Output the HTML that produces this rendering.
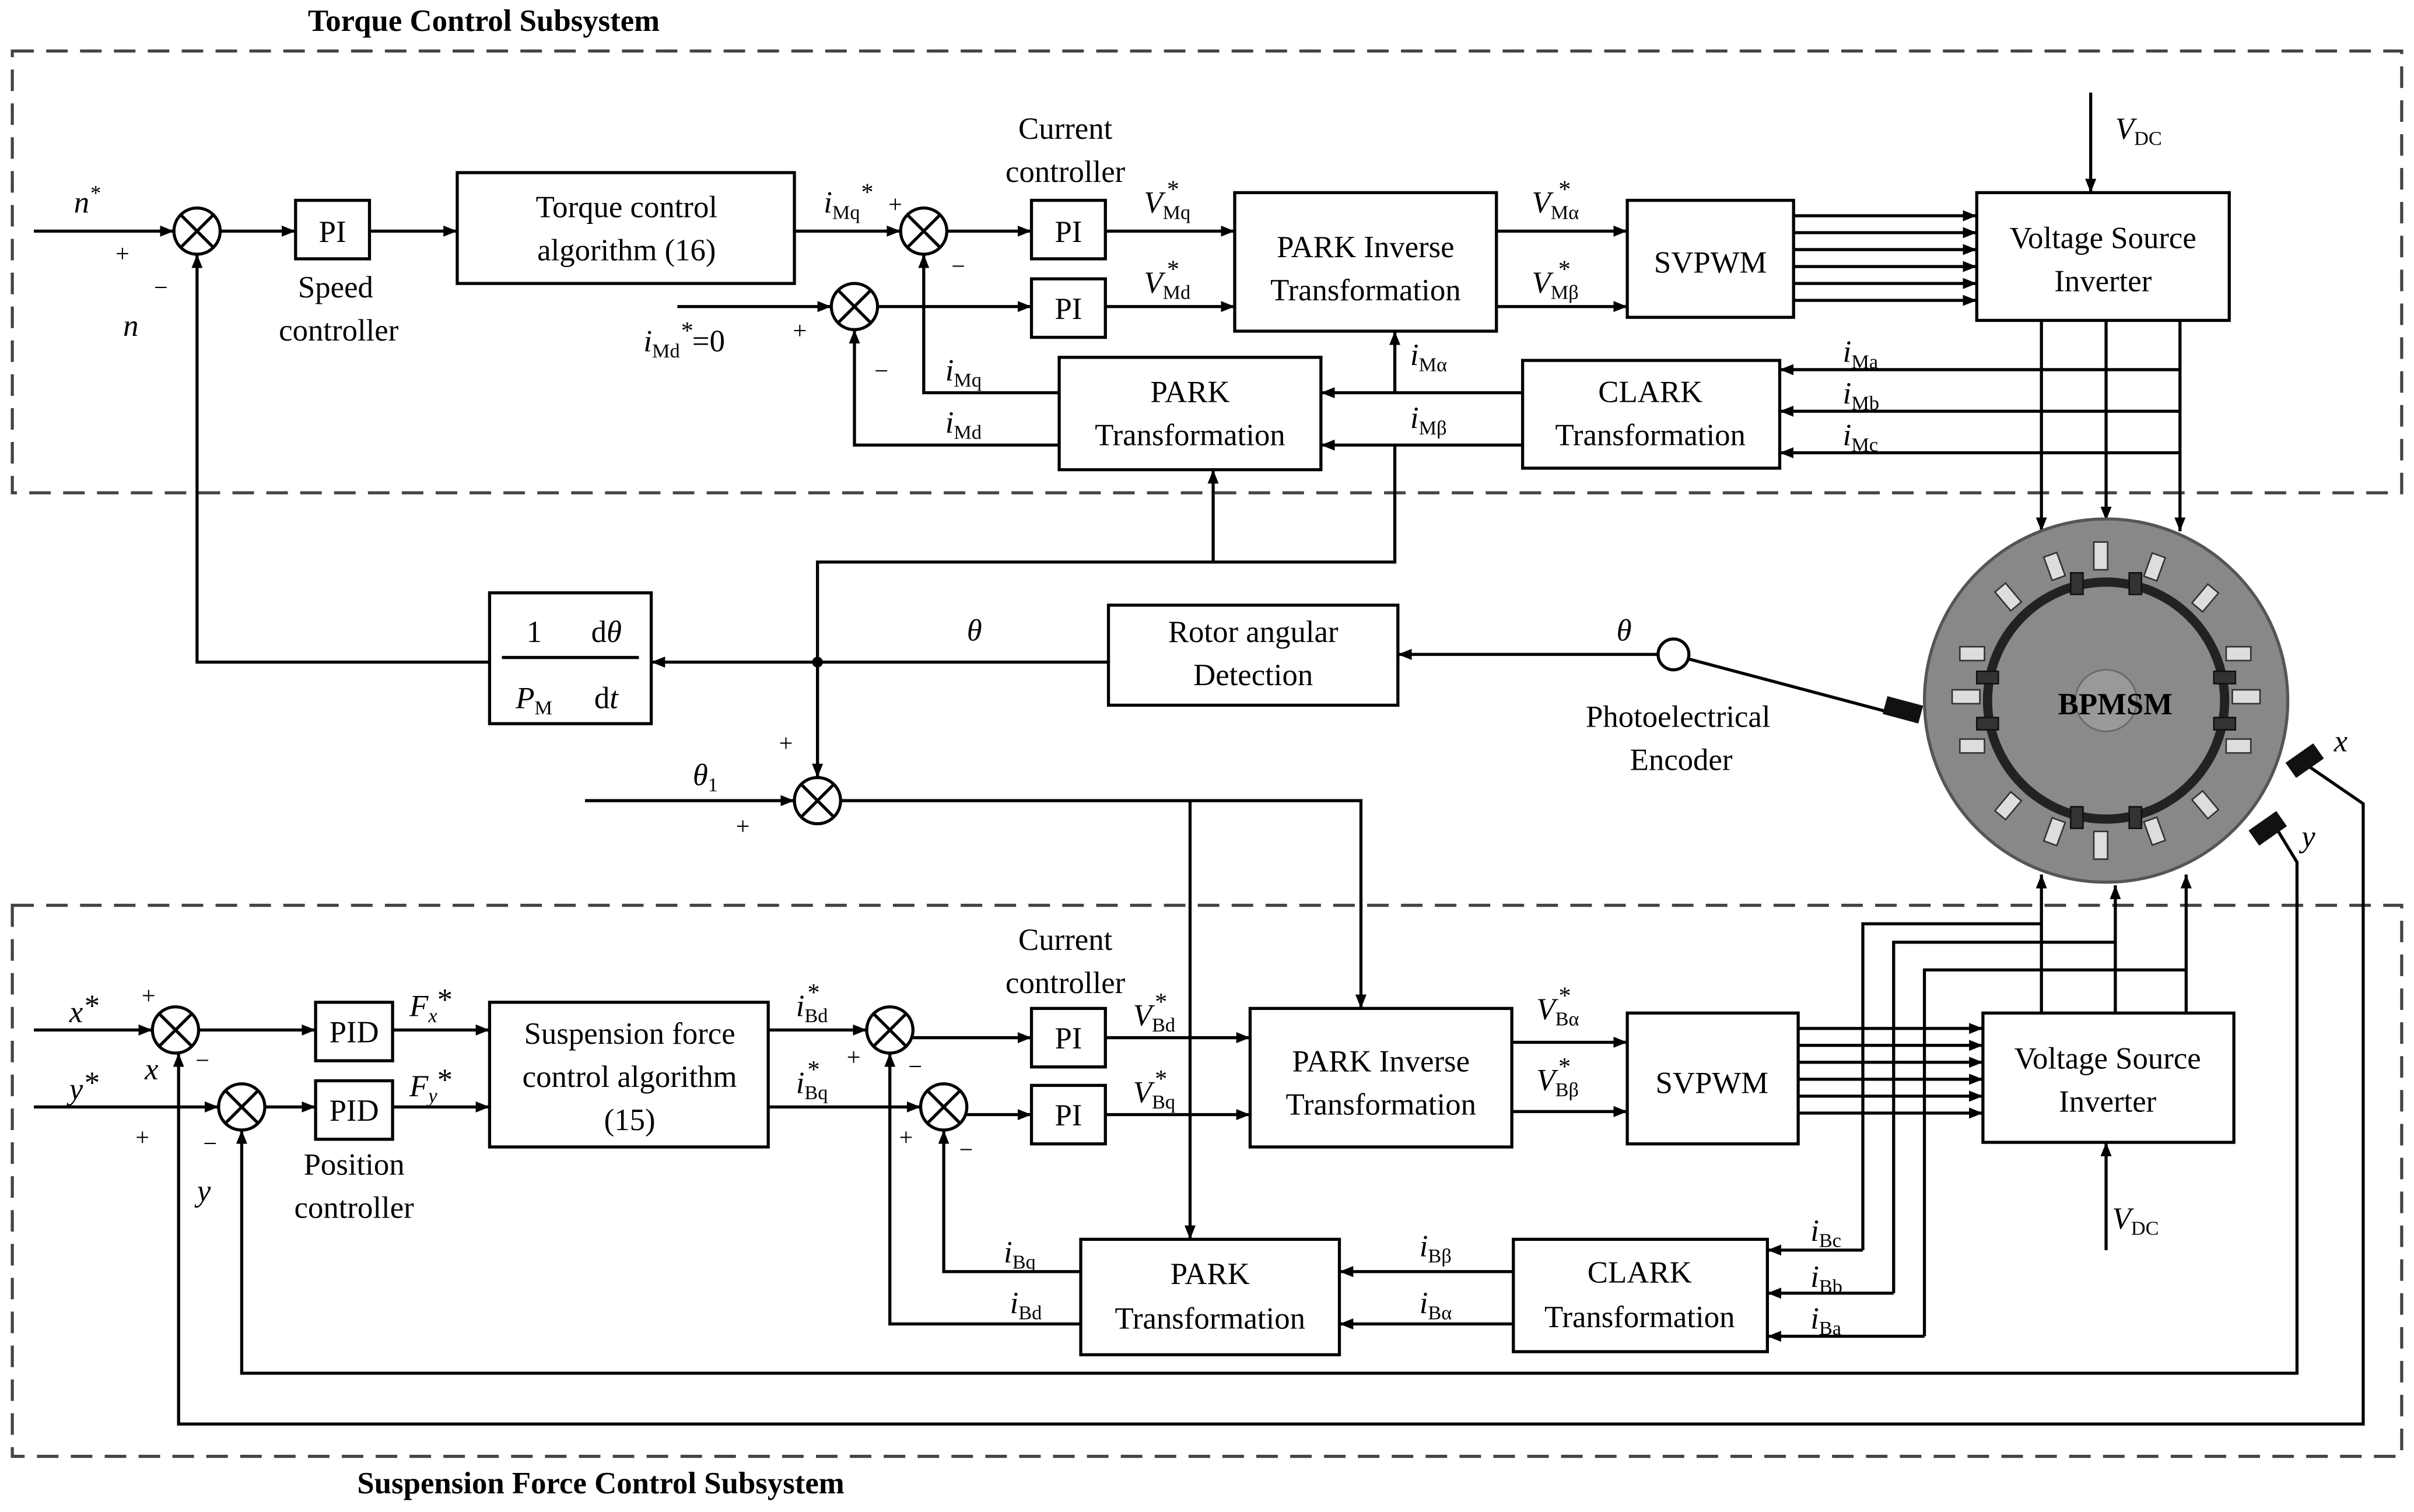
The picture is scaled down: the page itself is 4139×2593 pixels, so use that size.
<!DOCTYPE html>
<html><head><meta charset="utf-8"><style>
html,body{margin:0;padding:0;background:#fff}
svg{display:block}
text{font-family:"Liberation Serif",serif;fill:#000}
</style></head><body>
<svg width="4139" height="2593" viewBox="0 0 1568 982" xmlns="http://www.w3.org/2000/svg">
<defs>
<marker id="a" viewBox="0 0 10 10" refX="10" refY="5" markerWidth="9" markerHeight="9" markerUnits="userSpaceOnUse" orient="auto"><path d="M0,1 L10,5 L0,9z" fill="#000"/></marker>
</defs>
<g fill="none" stroke="#000" stroke-width="2">
<rect x="8" y="33" width="1552" height="287" stroke="#444" stroke-dasharray="14,8"/>
<rect x="8" y="588" width="1552" height="358" stroke="#444" stroke-dasharray="14,8"/>
<rect x="192" y="130" width="48" height="38"/>
<rect x="297" y="112" width="219" height="72"/>
<rect x="670" y="130" width="48" height="38"/>
<rect x="670" y="181" width="48" height="38"/>
<rect x="802" y="125" width="170" height="90"/>
<rect x="1057" y="130" width="108" height="76"/>
<rect x="1284" y="125" width="164" height="83"/>
<rect x="989" y="234" width="167" height="70"/>
<rect x="688" y="232" width="170" height="73"/>
<rect x="720" y="393" width="188" height="65"/>
<rect x="318" y="385" width="105" height="85"/>
<line x1="326" y1="427" x2="415" y2="427"/>
<circle cx="128" cy="150" r="15"/><path d="M117,139 L139,161 M139,139 L117,161"/>
<circle cx="600" cy="150" r="15"/><path d="M589,139 L611,161 M611,139 L589,161"/>
<circle cx="555" cy="199" r="15"/><path d="M544,188 L566,210 M566,188 L544,210"/>
<circle cx="531" cy="520" r="15"/><path d="M520,509 L542,531 M542,509 L520,531"/>
<line x1="22" y1="150" x2="113" y2="150" marker-end="url(#a)"/>
<line x1="143" y1="150" x2="192" y2="150" marker-end="url(#a)"/>
<line x1="240" y1="150" x2="297" y2="150" marker-end="url(#a)"/>
<line x1="516" y1="150" x2="585" y2="150" marker-end="url(#a)"/>
<line x1="615" y1="150" x2="670" y2="150" marker-end="url(#a)"/>
<line x1="440" y1="199" x2="540" y2="199" marker-end="url(#a)"/>
<line x1="570" y1="199" x2="670" y2="199" marker-end="url(#a)"/>
<line x1="718" y1="150" x2="802" y2="150" marker-end="url(#a)"/>
<line x1="718" y1="199" x2="802" y2="199" marker-end="url(#a)"/>
<line x1="972" y1="150" x2="1057" y2="150" marker-end="url(#a)"/>
<line x1="972" y1="199" x2="1057" y2="199" marker-end="url(#a)"/>
<line x1="1165" y1="140" x2="1284" y2="140" marker-end="url(#a)"/>
<line x1="1165" y1="151" x2="1284" y2="151" marker-end="url(#a)"/>
<line x1="1165" y1="162" x2="1284" y2="162" marker-end="url(#a)"/>
<line x1="1165" y1="173" x2="1284" y2="173" marker-end="url(#a)"/>
<line x1="1165" y1="184" x2="1284" y2="184" marker-end="url(#a)"/>
<line x1="1165" y1="195" x2="1284" y2="195" marker-end="url(#a)"/>
<line x1="1358" y1="60" x2="1358" y2="125" marker-end="url(#a)"/>
<line x1="1326" y1="208" x2="1326" y2="345" marker-end="url(#a)"/>
<line x1="1368" y1="208" x2="1368" y2="338" marker-end="url(#a)"/>
<line x1="1416" y1="208" x2="1416" y2="345" marker-end="url(#a)"/>
<line x1="1416" y1="240" x2="1156" y2="240" marker-end="url(#a)"/>
<line x1="1416" y1="267" x2="1156" y2="267" marker-end="url(#a)"/>
<line x1="1416" y1="294" x2="1156" y2="294" marker-end="url(#a)"/>
<line x1="989" y1="255" x2="858" y2="255" marker-end="url(#a)"/>
<line x1="989" y1="289" x2="858" y2="289" marker-end="url(#a)"/>
<line x1="906" y1="255" x2="906" y2="215" marker-end="url(#a)"/>
<polyline points="688,255 600,255 600,165" marker-end="url(#a)"/>
<polyline points="688,289 555,289 555,214" marker-end="url(#a)"/>
<polyline points="531,505 531,365 906,365 906,289"/>
<polyline points="788,365 788,305" marker-end="url(#a)"/>
<line x1="720" y1="430" x2="423" y2="430" marker-end="url(#a)"/>
<polyline points="318,430 128,430 128,165" marker-end="url(#a)"/>
<line x1="531" y1="430" x2="531" y2="505" marker-end="url(#a)"/>
<line x1="1077" y1="425" x2="908" y2="425" marker-end="url(#a)"/>
<circle cx="1087" cy="425" r="10"/>
<line x1="1097" y1="428" x2="1225" y2="462"/>
<line x1="380" y1="520" x2="516" y2="520" marker-end="url(#a)"/>
<polyline points="546,520 884,520 884,655" marker-end="url(#a)"/>
<line x1="773" y1="520" x2="773" y2="805" marker-end="url(#a)"/>
<rect x="205" y="651" width="50" height="38"/>
<rect x="205" y="702" width="50" height="38"/>
<rect x="318" y="651" width="181" height="94"/>
<rect x="670" y="655" width="48" height="38"/>
<rect x="670" y="705" width="48" height="38"/>
<rect x="812" y="655" width="170" height="90"/>
<rect x="1057" y="658" width="111" height="85"/>
<rect x="1288" y="658" width="163" height="84"/>
<rect x="983" y="805" width="165" height="73"/>
<rect x="702" y="805" width="168" height="75"/>
<circle cx="114" cy="669" r="15"/><path d="M103,658 L125,680 M125,658 L103,680"/>
<circle cx="157" cy="719" r="15"/><path d="M146,708 L168,730 M168,708 L146,730"/>
<circle cx="578" cy="669" r="15"/><path d="M567,658 L589,680 M589,658 L567,680"/>
<circle cx="613" cy="719" r="15"/><path d="M602,708 L624,730 M624,708 L602,730"/>
<line x1="22" y1="669" x2="99" y2="669" marker-end="url(#a)"/>
<line x1="22" y1="719" x2="142" y2="719" marker-end="url(#a)"/>
<line x1="129" y1="669" x2="205" y2="669" marker-end="url(#a)"/>
<line x1="172" y1="719" x2="205" y2="719" marker-end="url(#a)"/>
<line x1="255" y1="669" x2="318" y2="669" marker-end="url(#a)"/>
<line x1="255" y1="719" x2="318" y2="719" marker-end="url(#a)"/>
<line x1="499" y1="669" x2="563" y2="669" marker-end="url(#a)"/>
<line x1="499" y1="719" x2="598" y2="719" marker-end="url(#a)"/>
<line x1="593" y1="674" x2="670" y2="674" marker-end="url(#a)"/>
<line x1="628" y1="724" x2="670" y2="724" marker-end="url(#a)"/>
<line x1="718" y1="674" x2="812" y2="674" marker-end="url(#a)"/>
<line x1="718" y1="724" x2="812" y2="724" marker-end="url(#a)"/>
<line x1="982" y1="677" x2="1057" y2="677" marker-end="url(#a)"/>
<line x1="982" y1="722" x2="1057" y2="722" marker-end="url(#a)"/>
<line x1="1168" y1="668" x2="1288" y2="668" marker-end="url(#a)"/>
<line x1="1168" y1="679" x2="1288" y2="679" marker-end="url(#a)"/>
<line x1="1168" y1="690" x2="1288" y2="690" marker-end="url(#a)"/>
<line x1="1168" y1="701" x2="1288" y2="701" marker-end="url(#a)"/>
<line x1="1168" y1="712" x2="1288" y2="712" marker-end="url(#a)"/>
<line x1="1168" y1="723" x2="1288" y2="723" marker-end="url(#a)"/>
<line x1="1368" y1="812" x2="1368" y2="742" marker-end="url(#a)"/>
<line x1="1326" y1="658" x2="1326" y2="568" marker-end="url(#a)"/>
<line x1="1374" y1="658" x2="1374" y2="575" marker-end="url(#a)"/>
<line x1="1420" y1="658" x2="1420" y2="568" marker-end="url(#a)"/>
<polyline points="1326,600 1210,600 1210,812" />
<polyline points="1374,612 1230,612 1230,840" />
<polyline points="1420,630 1250,630 1250,868" />
<line x1="1210" y1="812" x2="1148" y2="812" marker-end="url(#a)"/>
<line x1="1230" y1="840" x2="1148" y2="840" marker-end="url(#a)"/>
<line x1="1250" y1="868" x2="1148" y2="868" marker-end="url(#a)"/>
<line x1="983" y1="826" x2="870" y2="826" marker-end="url(#a)"/>
<line x1="983" y1="860" x2="870" y2="860" marker-end="url(#a)"/>
<polyline points="702,826 613,826 613,734" marker-end="url(#a)"/>
<polyline points="702,860 578,860 578,684" marker-end="url(#a)"/>
<polyline points="1475,532 1492,560 1492,892 157,892 157,734" marker-end="url(#a)"/>
<polyline points="1500,498 1535,522 1535,925 116,925 116,684" marker-end="url(#a)"/>
</g>
<circle cx="531" cy="430" r="3.5" fill="#000"/>
<g>
<circle cx="1368" cy="455" r="118" fill="#888" stroke="#555" stroke-width="2"/>
<circle cx="1368" cy="455" r="80" fill="#222"/>
<circle cx="1368" cy="455" r="74" fill="#8a8a8a"/>
<circle cx="1368" cy="455" r="20" fill="#999" stroke="#666"/>
<g fill="#ddd" stroke="#333" stroke-width="1">
<rect x="1360" y="352" width="9" height="18"/><rect x="1360" y="540" width="9" height="18"/>
<rect x="1268" y="448" width="18" height="9"/><rect x="1450" y="448" width="18" height="9"/>
<rect x="1300" y="380" width="9" height="16" transform="rotate(-40 1304 388)"/>
<rect x="1428" y="380" width="9" height="16" transform="rotate(40 1432 388)"/>
<rect x="1300" y="515" width="9" height="16" transform="rotate(40 1304 523)"/>
<rect x="1428" y="515" width="9" height="16" transform="rotate(-40 1432 523)"/>
<rect x="1330" y="360" width="9" height="16" transform="rotate(-20 1334 368)"/>
<rect x="1395" y="360" width="9" height="16" transform="rotate(20 1399 368)"/>
<rect x="1330" y="532" width="9" height="16" transform="rotate(20 1334 540)"/>
<rect x="1395" y="532" width="9" height="16" transform="rotate(-20 1399 540)"/>
<rect x="1273" y="420" width="16" height="9"/><rect x="1273" y="480" width="16" height="9"/>
<rect x="1446" y="420" width="16" height="9"/><rect x="1446" y="480" width="16" height="9"/>
</g>
<g fill="#333" stroke="#111" stroke-width="1">
<rect x="1345" y="372" width="8" height="14"/><rect x="1383" y="372" width="8" height="14"/>
<rect x="1345" y="524" width="8" height="14"/><rect x="1383" y="524" width="8" height="14"/>
<rect x="1284" y="436" width="14" height="8"/><rect x="1284" y="466" width="14" height="8"/>
<rect x="1438" y="436" width="14" height="8"/><rect x="1438" y="466" width="14" height="8"/>
</g>
<rect x="1224" y="455" width="24" height="12" fill="#111" transform="rotate(15 1236 461)"/>
<rect x="1486" y="488" width="22" height="12" fill="#111" transform="rotate(-35 1497 494)"/>
<rect x="1462" y="532" width="22" height="12" fill="#111" transform="rotate(-35 1473 538)"/>
<text x="1374" y="464" font-size="20" font-weight="bold" text-anchor="middle">BPMSM</text>
</g>
<g font-size="20">
<text x="200" y="20" font-weight="bold">Torque Control Subsystem</text>
<text x="232" y="970" font-weight="bold">Suspension Force Control Subsystem</text>
<text x="48" y="138" font-style="italic">n<tspan dy="-8" font-size="14">*</tspan></text>
<text x="75" y="170" font-size="16">+</text>
<text x="100" y="192" font-size="16">−</text>
<text x="80" y="218" font-style="italic">n</text>
<text x="216" y="157" text-anchor="middle">PI</text>
<text x="218" y="193" text-anchor="middle">Speed</text>
<text x="220" y="221" text-anchor="middle">controller</text>
<text x="407" y="141" text-anchor="middle">Torque control</text>
<text x="407" y="169" text-anchor="middle">algorithm (16)</text>
<text x="535" y="138" font-style="italic">i<tspan font-size="13" dy="4" font-style="normal">Mq</tspan><tspan dy="-12" font-size="16">*</tspan></text>
<text x="577" y="138" font-size="16">+</text>
<text x="618" y="178" font-size="16">−</text>
<text x="692" y="90" text-anchor="middle">Current</text>
<text x="692" y="118" text-anchor="middle">controller</text>
<text x="694" y="157" text-anchor="middle">PI</text>
<text x="694" y="207" text-anchor="middle">PI</text>
<text x="743" y="138" font-style="italic">V<tspan font-size="13" dy="4" font-style="normal">Mq</tspan><tspan dy="-14" dx="-16" font-size="16">*</tspan></text>
<text x="743" y="190" font-style="italic">V<tspan font-size="13" dy="4" font-style="normal">Md</tspan><tspan dy="-14" dx="-16" font-size="16">*</tspan></text>
<text x="418" y="228" font-style="italic">i<tspan font-size="13" dy="4" font-style="normal">Md</tspan><tspan dy="-12" font-size="16">*</tspan><tspan dy="8" font-style="normal">=0</tspan></text>
<text x="515" y="220" font-size="16">+</text>
<text x="568" y="246" font-size="16">−</text>
<text x="614" y="247" font-style="italic">i<tspan font-size="13" dy="4" font-style="normal">Mq</tspan></text>
<text x="614" y="281" font-style="italic">i<tspan font-size="13" dy="4" font-style="normal">Md</tspan></text>
<text x="887" y="167" text-anchor="middle">PARK Inverse</text>
<text x="887" y="195" text-anchor="middle">Transformation</text>
<text x="995" y="138" font-style="italic">V<tspan font-size="13" dy="4" font-style="normal">Mα</tspan><tspan dy="-14" dx="-14" font-size="16">*</tspan></text>
<text x="995" y="190" font-style="italic">V<tspan font-size="13" dy="4" font-style="normal">Mβ</tspan><tspan dy="-14" dx="-14" font-size="16">*</tspan></text>
<text x="1111" y="177" text-anchor="middle">SVPWM</text>
<text x="1366" y="161" text-anchor="middle">Voltage Source</text>
<text x="1366" y="189" text-anchor="middle">Inverter</text>
<text x="1374" y="90" font-style="italic">V<tspan font-size="13" dy="4" font-style="normal">DC</tspan></text>
<text x="916" y="237" font-style="italic">i<tspan font-size="13" dy="4" font-style="normal">Mα</tspan></text>
<text x="916" y="278" font-style="italic">i<tspan font-size="13" dy="4" font-style="normal">Mβ</tspan></text>
<text x="1072" y="261" text-anchor="middle">CLARK</text>
<text x="1072" y="289" text-anchor="middle">Transformation</text>
<text x="773" y="261" text-anchor="middle">PARK</text>
<text x="773" y="289" text-anchor="middle">Transformation</text>
<text x="1197" y="235" font-style="italic">i<tspan font-size="13" dy="4" font-style="normal">Ma</tspan></text>
<text x="1197" y="262" font-style="italic">i<tspan font-size="13" dy="4" font-style="normal">Mb</tspan></text>
<text x="1197" y="289" font-style="italic">i<tspan font-size="13" dy="4" font-style="normal">Mc</tspan></text>
<text x="814" y="417" text-anchor="middle">Rotor angular</text>
<text x="814" y="445" text-anchor="middle">Detection</text>
<text x="628" y="416" font-style="italic">θ</text>
<text x="1050" y="416" font-style="italic">θ</text>
<text x="1090" y="472" text-anchor="middle">Photoelectrical</text>
<text x="1092" y="500" text-anchor="middle">Encoder</text>
<text x="342" y="417">1</text>
<text x="384" y="417">d<tspan font-style="italic">θ</tspan></text>
<text x="335" y="460" font-style="italic">P<tspan font-size="13" dy="4" font-style="normal">M</tspan></text>
<text x="386" y="460">d<tspan font-style="italic">t</tspan></text>
<text x="506" y="488" font-size="16">+</text>
<text x="478" y="542" font-size="16">+</text>
<text x="450" y="510" font-style="italic">θ<tspan font-size="13" dy="4" font-style="normal">1</tspan></text>
<text x="1516" y="488" font-style="italic">x</text>
<text x="1495" y="550" font-style="italic">y</text>
<text x="45" y="664" font-style="italic">x<tspan dy="-4">*</tspan></text>
<text x="45" y="714" font-style="italic">y<tspan dy="-4">*</tspan></text>
<text x="92" y="652" font-size="16">+</text>
<text x="94" y="701" font-style="italic">x</text>
<text x="127" y="694" font-size="16">−</text>
<text x="88" y="744" font-size="16">+</text>
<text x="132" y="748" font-size="16">−</text>
<text x="128" y="780" font-style="italic">y</text>
<text x="230" y="677" text-anchor="middle">PID</text>
<text x="230" y="728" text-anchor="middle">PID</text>
<text x="230" y="763" text-anchor="middle">Position</text>
<text x="230" y="791" text-anchor="middle">controller</text>
<text x="266" y="660" font-style="italic">F<tspan font-size="13" dy="4">x</tspan><tspan dy="-8" font-style="normal">*</tspan></text>
<text x="266" y="712" font-style="italic">F<tspan font-size="13" dy="4">y</tspan><tspan dy="-8" font-style="normal">*</tspan></text>
<text x="409" y="678" text-anchor="middle">Suspension force</text>
<text x="409" y="706" text-anchor="middle">control algorithm</text>
<text x="409" y="734" text-anchor="middle">(15)</text>
<text x="517" y="660" font-style="italic">i<tspan font-size="13" dy="4" font-style="normal">Bd</tspan><tspan dy="-14" dx="-14" font-size="16">*</tspan></text>
<text x="517" y="710" font-style="italic">i<tspan font-size="13" dy="4" font-style="normal">Bq</tspan><tspan dy="-14" dx="-14" font-size="16">*</tspan></text>
<text x="550" y="692" font-size="16">+</text>
<text x="590" y="698" font-size="16">−</text>
<text x="584" y="744" font-size="16">+</text>
<text x="623" y="752" font-size="16">−</text>
<text x="692" y="617" text-anchor="middle">Current</text>
<text x="692" y="645" text-anchor="middle">controller</text>
<text x="694" y="681" text-anchor="middle">PI</text>
<text x="694" y="731" text-anchor="middle">PI</text>
<text x="736" y="666" font-style="italic">V<tspan font-size="13" dy="4" font-style="normal">Bd</tspan><tspan dy="-14" dx="-14" font-size="16">*</tspan></text>
<text x="736" y="716" font-style="italic">V<tspan font-size="13" dy="4" font-style="normal">Bq</tspan><tspan dy="-14" dx="-14" font-size="16">*</tspan></text>
<text x="897" y="696" text-anchor="middle">PARK Inverse</text>
<text x="897" y="724" text-anchor="middle">Transformation</text>
<text x="998" y="662" font-style="italic">V<tspan font-size="13" dy="4" font-style="normal">Bα</tspan><tspan dy="-14" dx="-14" font-size="16">*</tspan></text>
<text x="998" y="708" font-style="italic">V<tspan font-size="13" dy="4" font-style="normal">Bβ</tspan><tspan dy="-14" dx="-14" font-size="16">*</tspan></text>
<text x="1112" y="710" text-anchor="middle">SVPWM</text>
<text x="1369" y="694" text-anchor="middle">Voltage Source</text>
<text x="1369" y="722" text-anchor="middle">Inverter</text>
<text x="1372" y="798" font-style="italic">V<tspan font-size="13" dy="4" font-style="normal">DC</tspan></text>
<text x="1065" y="833" text-anchor="middle">CLARK</text>
<text x="1065" y="862" text-anchor="middle">Transformation</text>
<text x="786" y="834" text-anchor="middle">PARK</text>
<text x="786" y="863" text-anchor="middle">Transformation</text>
<text x="652" y="820" font-style="italic">i<tspan font-size="13" dy="4" font-style="normal">Bq</tspan></text>
<text x="656" y="853" font-style="italic">i<tspan font-size="13" dy="4" font-style="normal">Bd</tspan></text>
<text x="922" y="816" font-style="italic">i<tspan font-size="13" dy="4" font-style="normal">Bβ</tspan></text>
<text x="922" y="853" font-style="italic">i<tspan font-size="13" dy="4" font-style="normal">Bα</tspan></text>
<text x="1176" y="806" font-style="italic">i<tspan font-size="13" dy="4" font-style="normal">Bc</tspan></text>
<text x="1176" y="836" font-style="italic">i<tspan font-size="13" dy="4" font-style="normal">Bb</tspan></text>
<text x="1176" y="863" font-style="italic">i<tspan font-size="13" dy="4" font-style="normal">Ba</tspan></text>
</g>
</svg>
</body></html>
